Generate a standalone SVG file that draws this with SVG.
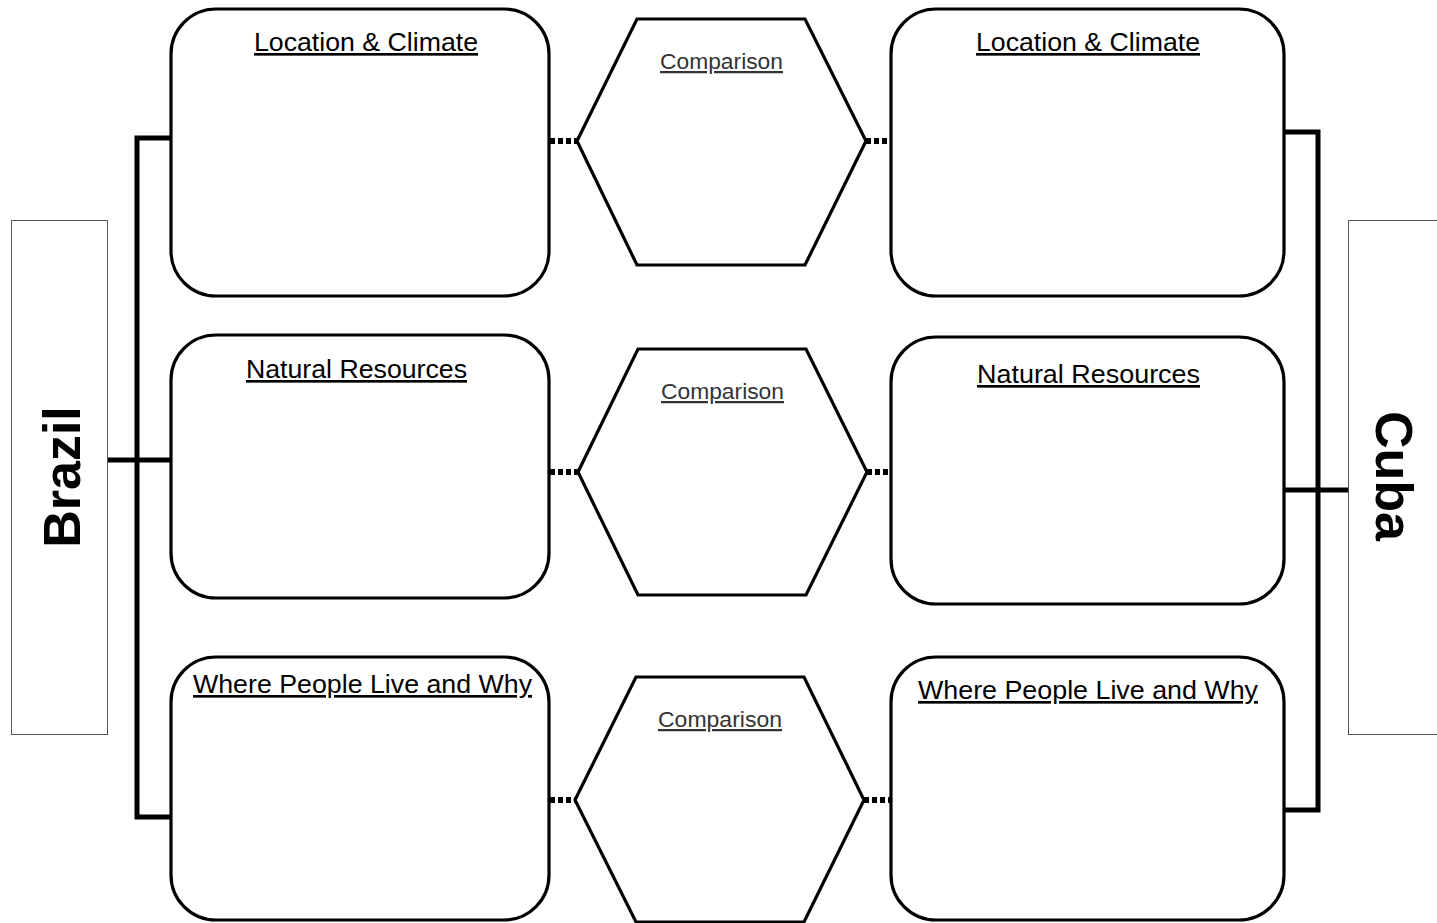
<svg xmlns="http://www.w3.org/2000/svg" width="1437" height="923" viewBox="0 0 1437 923">
<style>
.box{fill:#fff;stroke:#000;stroke-width:3.2}
.hex{fill:#fff;stroke:#000;stroke-width:3.2;stroke-linejoin:miter}
.side{fill:#fff;stroke:#555;stroke-width:1}
.title{font-family:"Liberation Sans",Arial,sans-serif;font-size:26.5px;fill:#000;text-decoration:underline}
.cmp{font-family:"Liberation Sans",Arial,sans-serif;font-size:22.5px;fill:#333;text-decoration:underline}
.country{font-family:"Liberation Sans",Arial,sans-serif;font-size:52px;font-weight:bold;fill:#000}
.bracket{fill:none;stroke:#000;stroke-width:5}
.dot{fill:none;stroke:#000;stroke-width:6;stroke-dasharray:5 3}
</style>
<rect width="1437" height="923" fill="#fff"/>
<g id="connectors">
<polyline class="bracket" points="171,138 137,138 137,817 171,817"/>
<line class="bracket" x1="107" y1="460" x2="171" y2="460"/>
<polyline class="bracket" points="1284,132 1318,132 1318,810 1284,810"/>
<line class="bracket" x1="1284" y1="490" x2="1348" y2="490"/>
<line class="dot" x1="550" y1="141" x2="577" y2="141"/>
<line class="dot" x1="866" y1="141" x2="891" y2="141"/>
<line class="dot" x1="550" y1="472" x2="578" y2="472"/>
<line class="dot" x1="867" y1="472" x2="891" y2="472"/>
<line class="dot" x1="550" y1="800" x2="575" y2="800"/>
<line class="dot" x1="864" y1="800" x2="891" y2="800"/>
</g>
<g id="brazil">
<rect class="side" x="11.5" y="220.5" width="96" height="514"/>
<text class="country" transform="translate(80,477) rotate(-90)" text-anchor="middle">Brazil</text>
</g>
<g id="cuba">
<rect class="side" x="1348.5" y="220.5" width="100" height="514"/>
<text class="country" transform="translate(1376,476) rotate(90)" text-anchor="middle">Cuba</text>
</g>
<g id="brazil-location">
<rect class="box" x="171" y="9" width="378" height="287" rx="45"/>
<text class="title" x="254" y="51" textLength="224" lengthAdjust="spacingAndGlyphs">Location &amp; Climate</text>
</g>
<g id="brazil-resources">
<rect class="box" x="171" y="335" width="378" height="263" rx="45"/>
<text class="title" x="246" y="378" textLength="221" lengthAdjust="spacingAndGlyphs">Natural Resources</text>
</g>
<g id="brazil-people">
<rect class="box" x="171" y="657" width="378" height="263" rx="45"/>
<text class="title" x="193" y="693" textLength="339" lengthAdjust="spacingAndGlyphs">Where People Live and Why</text>
</g>
<g id="cuba-location">
<rect class="box" x="891" y="9" width="393" height="287" rx="45"/>
<text class="title" x="976" y="51" textLength="224" lengthAdjust="spacingAndGlyphs">Location &amp; Climate</text>
</g>
<g id="cuba-resources">
<rect class="box" x="891" y="337" width="393" height="267" rx="45"/>
<text class="title" x="977" y="383" textLength="223" lengthAdjust="spacingAndGlyphs">Natural Resources</text>
</g>
<g id="cuba-people">
<rect class="box" x="891" y="657" width="393" height="263" rx="45"/>
<text class="title" x="918" y="699" textLength="340" lengthAdjust="spacingAndGlyphs">Where People Live and Why</text>
</g>
<g id="comparison-1">
<polygon class="hex" points="577,141 637,19 805,19 866,141 805,265 637,265"/>
<text class="cmp" x="660" y="69" textLength="123" lengthAdjust="spacingAndGlyphs">Comparison</text>
</g>
<g id="comparison-2">
<polygon class="hex" points="578,472 638,349 806,349 867,472 806,595 638,595"/>
<text class="cmp" x="661" y="399" textLength="123" lengthAdjust="spacingAndGlyphs">Comparison</text>
</g>
<g id="comparison-3">
<polygon class="hex" points="575,800 636,677 804,677 864,800 804,922 636,922"/>
<text class="cmp" x="658" y="727" textLength="124" lengthAdjust="spacingAndGlyphs">Comparison</text>
</g>
</svg>
